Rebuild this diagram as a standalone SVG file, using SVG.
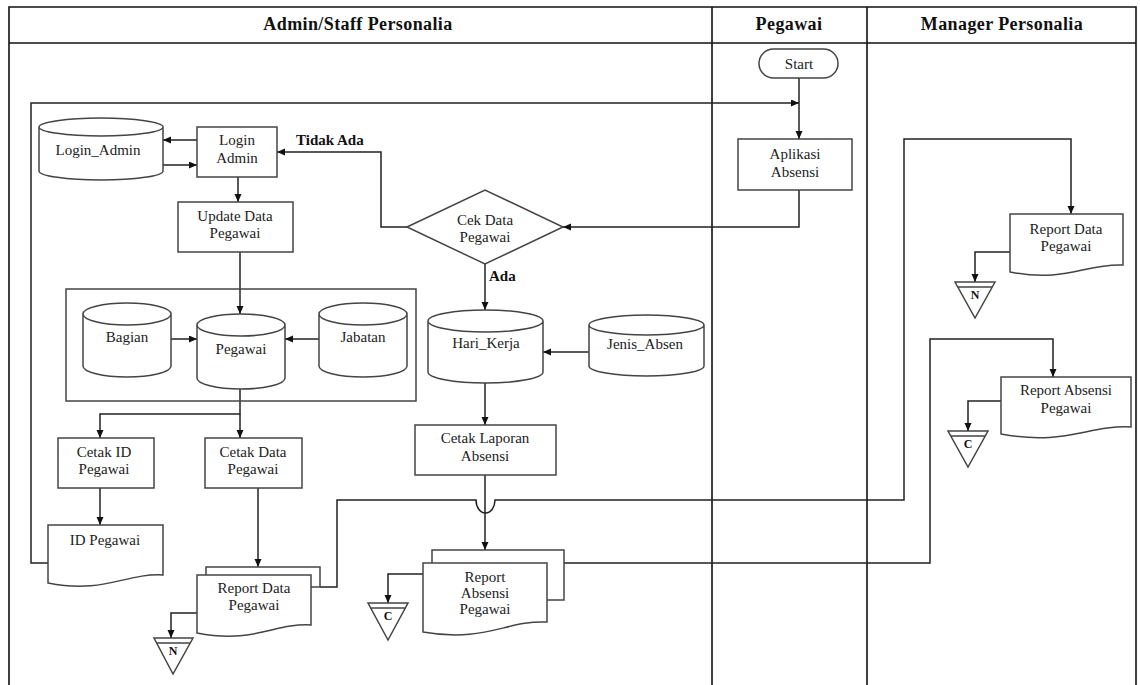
<svg xmlns="http://www.w3.org/2000/svg" width="1140" height="685" viewBox="0 0 1140 685">
<defs>
<marker id="arr" markerWidth="9" markerHeight="8" refX="8" refY="3.5" orient="auto" markerUnits="userSpaceOnUse">
<path d="M0,0 L8,3.5 L0,7 z" fill="#111"/>
</marker>
<style>
.lane{fill:none;stroke:#111;stroke-width:1.6}
.shp{fill:#fff;stroke:#444;stroke-width:1.5}
.box{fill:none;stroke:#444;stroke-width:1.5}
.con{fill:none;stroke:#222;stroke-width:1.5;marker-end:url(#arr)}
.lin{fill:none;stroke:#222;stroke-width:1.5}
.t{font-family:"Liberation Serif","Times New Roman",serif;font-size:15px;fill:#222;text-anchor:middle}
.h{font-family:"Liberation Serif","Times New Roman",serif;font-size:18px;font-weight:bold;fill:#111;text-anchor:middle;letter-spacing:0.4px}
.b{font-family:"Liberation Serif","Times New Roman",serif;font-size:15px;font-weight:bold;fill:#111}
.o{font-family:"Liberation Serif","Times New Roman",serif;font-size:12px;font-weight:bold;fill:#111;text-anchor:middle}
</style>
</defs>
<rect width="1140" height="685" fill="#fff"/>
<g id="lanes">
<path class="lane" d="M9,685 V7 H1136 V685 M9,43 H1136 M712,7 V685 M867,7 V685"/>
<text class="h" x="358" y="30">Admin/Staff Personalia</text>
<text class="h" x="789" y="30">Pegawai</text>
<text class="h" x="1002" y="30">Manager Personalia</text>
</g>
<g id="connectors">
<path class="con" d="M799,78 V139"/>
<path class="con" d="M799,190 V227 H563"/>
<path class="con" d="M407,227 H381 V152 H277"/>
<path class="con" d="M485,264 V310"/>
<path class="con" d="M197,140 H163"/>
<path class="con" d="M163,165 H197"/>
<path class="con" d="M238,177 V202"/>
<path class="con" d="M240,252 V314"/>
<path class="con" d="M171,339 H197"/>
<path class="con" d="M319,339 H285"/>
<path class="con" d="M240,389 V414 H100 V438"/>
<path class="con" d="M240,414 V438"/>
<path class="con" d="M100,488 V525"/>
<path class="con" d="M48,563 H31 V103 H799"/>
<path class="con" d="M258,488 V567"/>
<path class="con" d="M197,613 H171 V638"/>
<path class="con" d="M320,587 H337 V500 H476 A9.5 13 0 0 0 495,500 H904 V139 H1071 V214"/>
<path class="con" d="M589,352 H543"/>
<path class="con" d="M485,383 V425"/>
<path class="con" d="M485,475 V550"/>
<path class="con" d="M423,574 H388 V603"/>
<path class="con" d="M564,563 H930 V339 H1053 V377"/>
<path class="con" d="M1010,252 H975 V282"/>
<path class="con" d="M1001,401 H968 V431"/>
</g>
<g id="start">
<rect class="shp" x="759" y="49" width="79" height="29" rx="14.5"/>
<text class="t" x="799" y="69">Start</text>
</g>
<g id="aplikasi-absensi">
<rect class="shp" x="738" y="139" width="114" height="51"/>
<text class="t" x="795" y="159">Aplikasi</text>
<text class="t" x="795" y="177">Absensi</text>
</g>
<g id="cek-data-pegawai">
<path class="shp" d="M407,227 L485,190 L563,227 L485,264 Z"/>
<text class="t" x="485" y="225">Cek Data</text>
<text class="t" x="485" y="242">Pegawai</text>
<text class="b" x="296" y="145">Tidak Ada</text>
<text class="b" x="489" y="281">Ada</text>
</g>
<g id="login-admin-db">
<path class="shp" d="M39,127 A62,9 0 0 1 163,127 V171 A62,9 0 0 1 39,171 Z M39,127 A62,9 0 0 0 163,127"/>
<text class="t" x="98" y="155">Login_Admin</text>
</g>
<g id="login-admin">
<rect class="shp" x="197" y="127" width="80" height="50"/>
<text class="t" x="237" y="145">Login</text>
<text class="t" x="237" y="163">Admin</text>
</g>
<g id="update-data-pegawai">
<rect class="shp" x="178" y="202" width="115" height="50"/>
<text class="t" x="235" y="221">Update Data</text>
<text class="t" x="235" y="238">Pegawai</text>
</g>
<g id="master-group">
<rect class="box" x="66" y="289" width="350" height="112"/>
</g>
<g id="bagian-db">
<path class="shp" d="M83,314 A44,11 0 0 1 171,314 V366 A44,11 0 0 1 83,366 Z M83,314 A44,11 0 0 0 171,314"/>
<text class="t" x="127" y="342">Bagian</text>
</g>
<g id="pegawai-db">
<path class="shp" d="M197,325 A44,11 0 0 1 285,325 V378 A44,11 0 0 1 197,378 Z M197,325 A44,11 0 0 0 285,325"/>
<text class="t" x="241" y="354">Pegawai</text>
</g>
<g id="jabatan-db">
<path class="shp" d="M319,314 A44,11 0 0 1 407,314 V366 A44,11 0 0 1 319,366 Z M319,314 A44,11 0 0 0 407,314"/>
<text class="t" x="363" y="342">Jabatan</text>
</g>
<g id="hari-kerja-db">
<path class="shp" d="M428,321 A57.5,11 0 0 1 543,321 V372 A57.5,11 0 0 1 428,372 Z M428,321 A57.5,11 0 0 0 543,321"/>
<text class="t" x="486" y="348">Hari_Kerja</text>
</g>
<g id="jenis-absen-db">
<path class="shp" d="M589,325 A57.5,10 0 0 1 704,325 V366 A57.5,10 0 0 1 589,366 Z M589,325 A57.5,10 0 0 0 704,325"/>
<text class="t" x="645" y="349">Jenis_Absen</text>
</g>
<g id="cetak-id-pegawai">
<rect class="shp" x="58" y="438" width="96" height="50"/>
<text class="t" x="104" y="457">Cetak ID</text>
<text class="t" x="104" y="474">Pegawai</text>
</g>
<g id="cetak-data-pegawai">
<rect class="shp" x="205" y="438" width="97" height="50"/>
<text class="t" x="253" y="457">Cetak Data</text>
<text class="t" x="253" y="474">Pegawai</text>
</g>
<g id="cetak-laporan-absensi">
<rect class="shp" x="415" y="425" width="141" height="50"/>
<text class="t" x="485" y="443">Cetak Laporan</text>
<text class="t" x="485" y="461">Absensi</text>
</g>
<g id="id-pegawai">
<path class="shp" d="M48,525 H163 V575 C125,573 105,594 48,583 Z"/>
<text class="t" x="105" y="545">ID Pegawai</text>
</g>
<g id="report-data-pegawai-admin">
<path class="shp" d="M206,575 V567 H320 V587 H311"/>
<path class="shp" d="M197,575 H311 V625 C274,623 254,644 197,633 Z"/>
<text class="t" x="254" y="593">Report Data</text>
<text class="t" x="254" y="610">Pegawai</text>
</g>
<g id="report-absensi-pegawai-admin">
<path class="shp" d="M432,563 V550 H564 V600 H547"/>
<path class="shp" d="M423,563 H547 V622 C507,620 485,643 423,632 Z"/>
<text class="t" x="485" y="582">Report</text>
<text class="t" x="485" y="598">Absensi</text>
<text class="t" x="485" y="614">Pegawai</text>
</g>
<g id="report-data-pegawai-manager">
<path class="shp" d="M1010,214 H1123 V265 C1086,263 1066,283 1010,272 Z"/>
<text class="t" x="1066" y="234">Report Data</text>
<text class="t" x="1066" y="251">Pegawai</text>
</g>
<g id="report-absensi-pegawai-manager">
<path class="shp" d="M1001,377 H1131 V427 C1088,425 1065,446 1001,434 Z"/>
<text class="t" x="1066" y="395">Report Absensi</text>
<text class="t" x="1066" y="413">Pegawai</text>
</g>
<g id="offpage-n-admin">
<path class="shp" d="M154,638 H193 L173,674 Z M157,643 H190"/>
<text class="o" x="173" y="655">N</text>
</g>
<g id="offpage-c-admin">
<path class="shp" d="M368,603 H408 L388,640 Z M371,608 H405"/>
<text class="o" x="388" y="620">C</text>
</g>
<g id="offpage-n-manager">
<path class="shp" d="M955,282 H995 L975,318 Z M958,287 H992"/>
<text class="o" x="975" y="299">N</text>
</g>
<g id="offpage-c-manager">
<path class="shp" d="M948,431 H988 L968,467 Z M951,436 H985"/>
<text class="o" x="968" y="448">C</text>
</g>
</svg>
